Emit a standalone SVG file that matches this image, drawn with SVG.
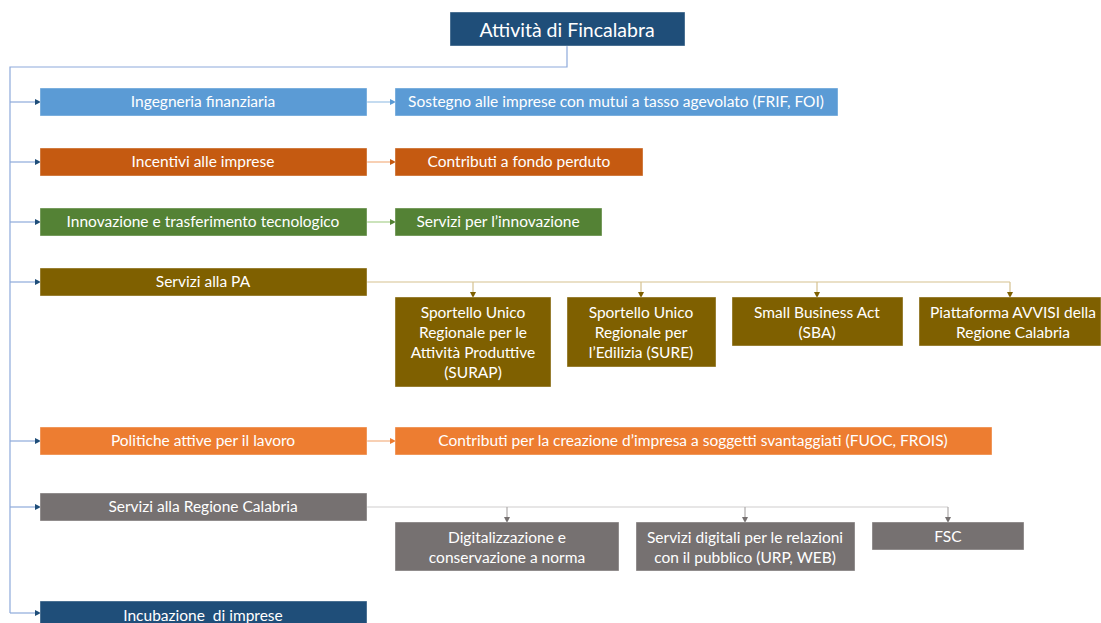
<svg xmlns="http://www.w3.org/2000/svg" width="1101" height="623" viewBox="0 0 1101 623">
<style>
text{font-family:Lato,"Open Sans","Liberation Sans",sans-serif;font-size:15.5px;fill:#fff;text-anchor:middle;dominant-baseline:central;white-space:pre}
.t{font-size:19.5px}
.blue{fill:#5b9bd5}.rust{fill:#c55a11}.green{fill:#548235}.olive{fill:#7f6000}.orange{fill:#ed7d31}.gray{fill:#767171}.navy{fill:#1f4e79}
.box{stroke:#fff;stroke-width:0.8;stroke-opacity:0.5}
.c{fill:none;stroke-width:1.2}
</style>
<defs>
<marker id="aNavy" markerWidth="6" markerHeight="6" refX="5" refY="3" orient="auto" markerUnits="userSpaceOnUse"><path d="M0,0 L6,3 L0,6z" fill="#1f4e79"/></marker>
<marker id="aBlue" markerWidth="6" markerHeight="6" refX="5" refY="3" orient="auto" markerUnits="userSpaceOnUse"><path d="M0,0 L6,3 L0,6z" fill="#5b9bd5"/></marker>
<marker id="aRust" markerWidth="6" markerHeight="6" refX="5" refY="3" orient="auto" markerUnits="userSpaceOnUse"><path d="M0,0 L6,3 L0,6z" fill="#c55a11"/></marker>
<marker id="aGreen" markerWidth="6" markerHeight="6" refX="5" refY="3" orient="auto" markerUnits="userSpaceOnUse"><path d="M0,0 L6,3 L0,6z" fill="#548235"/></marker>
<marker id="aOlive" markerWidth="6" markerHeight="6" refX="5" refY="3" orient="auto" markerUnits="userSpaceOnUse"><path d="M0,0 L6,3 L0,6z" fill="#7f6000"/></marker>
<marker id="aOrange" markerWidth="6" markerHeight="6" refX="5" refY="3" orient="auto" markerUnits="userSpaceOnUse"><path d="M0,0 L6,3 L0,6z" fill="#ed7d31"/></marker>
<marker id="aGray" markerWidth="6" markerHeight="6" refX="5" refY="3" orient="auto" markerUnits="userSpaceOnUse"><path d="M0,0 L6,3 L0,6z" fill="#767171"/></marker>
</defs>
<rect width="1101" height="623" fill="#fff"/>
<g id="connectors">
<path class="c" stroke="#8eaadb" d="M567,46 V67 H10 V613"/>
<g stroke="#8eaadb" class="c" marker-end="url(#aNavy)">
<path d="M10,102 H40"/><path d="M10,162 H40"/><path d="M10,222 H40"/><path d="M10,282 H40"/><path d="M10,441 H40"/><path d="M10,507 H40"/><path d="M10,613 H40"/>
</g>
<path class="c" stroke="#9dc3e6" d="M367,102 H395" marker-end="url(#aBlue)"/>
<path class="c" stroke="#f4b183" d="M367,162 H395" marker-end="url(#aRust)"/>
<path class="c" stroke="#a9d18e" d="M367,222 H395" marker-end="url(#aGreen)"/>
<path class="c" stroke="#f4b183" d="M367,441 H395" marker-end="url(#aOrange)"/>
<path class="c" stroke="#d6c28f" d="M367,282 H1010"/>
<g class="c" stroke="#d6c28f" marker-end="url(#aOlive)">
<path d="M473,282 V297"/><path d="M641,282 V297"/><path d="M817,282 V297"/><path d="M1010,282 V297"/>
</g>
<path class="c" stroke="#d0cece" d="M367,507 H948"/>
<g class="c" stroke="#aeaaaa" marker-end="url(#aGray)">
<path d="M507,507 V522"/><path d="M745,507 V522"/><path d="M948,507 V522"/>
</g>
</g>
<g id="root"><rect class="box navy" x="450" y="12" width="235" height="34"/><text class="t" x="567" y="29">Attività di Fincalabra</text></g>
<g id="n1"><rect class="box blue" x="40" y="88" width="327" height="28"/><text x="203" y="101">Ingegneria finanziaria</text></g>
<g id="n1a"><rect class="box blue" x="395" y="88" width="443" height="28"/><text x="616" y="101">Sostegno alle imprese con mutui a tasso agevolato (FRIF, FOI)</text></g>
<g id="n2"><rect class="box rust" x="40" y="148" width="327" height="28"/><text x="203" y="161">Incentivi alle imprese</text></g>
<g id="n2a"><rect class="box rust" x="395" y="148" width="248" height="28"/><text x="519" y="161">Contributi a fondo perduto</text></g>
<g id="n3"><rect class="box green" x="40" y="208" width="327" height="28"/><text x="203" y="221">Innovazione e trasferimento tecnologico</text></g>
<g id="n3a"><rect class="box green" x="395" y="208" width="207" height="28"/><text x="498" y="221">Servizi per l’innovazione</text></g>
<g id="n4"><rect class="box olive" x="40" y="268" width="327" height="28"/><text x="203" y="281">Servizi alla PA</text></g>
<g id="n4a"><rect class="box olive" x="395" y="297" width="156" height="90"/><text x="473" y="312">Sportello Unico</text><text x="473" y="332">Regionale per le</text><text x="473" y="352">Attività Produttive</text><text x="473" y="372">(SURAP)</text></g>
<g id="n4b"><rect class="box olive" x="567" y="297" width="149" height="70"/><text x="641" y="312">Sportello Unico</text><text x="641" y="332">Regionale per</text><text x="641" y="352">l’Edilizia (SURE)</text></g>
<g id="n4c"><rect class="box olive" x="732" y="297" width="171" height="49"/><text x="817" y="312">Small Business Act</text><text x="817" y="332">(SBA)</text></g>
<g id="n4d"><rect class="box olive" x="919" y="297" width="182" height="49"/><text x="1013" y="312">Piattaforma AVVISI della</text><text x="1013" y="332">Regione Calabria</text></g>
<g id="n5"><rect class="box orange" x="40" y="427" width="327" height="28"/><text x="203" y="440">Politiche attive per il lavoro</text></g>
<g id="n5a"><rect class="box orange" x="395" y="427" width="597" height="28"/><text x="693" y="440">Contributi per la creazione d’impresa a soggetti svantaggiati (FUOC, FROIS)</text></g>
<g id="n6"><rect class="box gray" x="40" y="493" width="327" height="28"/><text x="203" y="506">Servizi alla Regione Calabria</text></g>
<g id="n6a"><rect class="box gray" x="395" y="522" width="224" height="49"/><text x="507" y="537">Digitalizzazione e</text><text x="507" y="557">conservazione a norma</text></g>
<g id="n6b"><rect class="box gray" x="636" y="522" width="219" height="49"/><text x="745" y="537">Servizi digitali per le relazioni</text><text x="745" y="557">con il pubblico (URP, WEB)</text></g>
<g id="n6c"><rect class="box gray" x="872" y="522" width="152" height="28"/><text x="948" y="536">FSC</text></g>
<g id="n7"><rect class="box navy" x="40" y="601" width="327" height="30"/><text x="203" y="615">Incubazione  di imprese</text></g>
</svg>
